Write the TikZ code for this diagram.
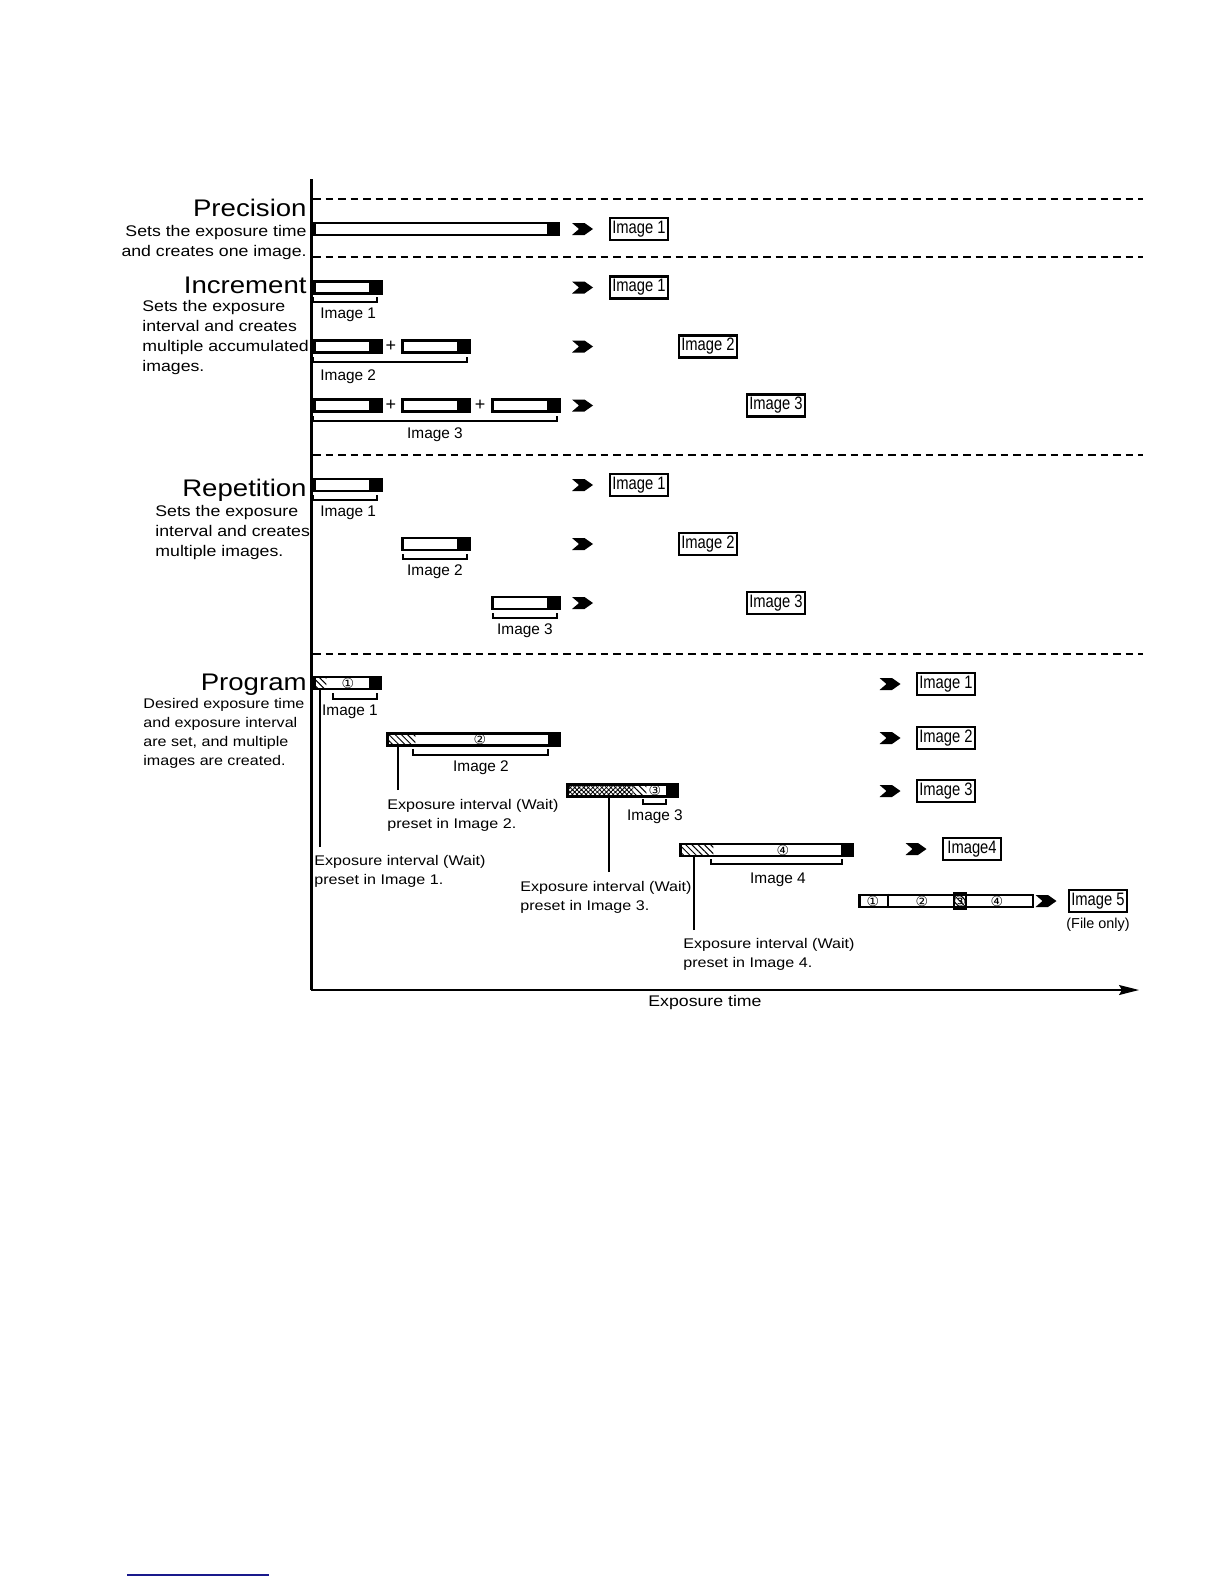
\documentclass[tikz,border=0pt]{standalone}
\usepackage{fontspec}
\setmainfont{Liberation Sans}[FakeStretch=1.15]
\newfontfamily\plainfont{Liberation Sans}
\newfontfamily\boxfont{Liberation Sans}[FakeStretch=0.82]
\newfontfamily\symfont{DejaVu Sans}
\usepackage{tikz}
\usetikzlibrary{arrows.meta, patterns.meta}
\definecolor{footblue}{RGB}{25,25,140}

\begin{document}
\begin{tikzpicture}[x=0.5pt, y=-0.5pt, every node/.style={inner sep=0pt},
    title/.style={anchor=base east, font=\fontsize{12}{14}\selectfont},
    desc/.style={anchor=north west, align=left, font=\fontsize{7.7}{10}\selectfont},
    wait/.style={anchor=north west, align=left, font=\fontsize{7}{9.5}\selectfont},
    lab/.style={anchor=base, font=\plainfont\fontsize{7.7}{9}\selectfont},
    imgbox/.style={draw, line width=1.2pt, minimum width=29pt, minimum height=11pt, inner sep=0.5pt, font=\boxfont\fontsize{9}{10}\selectfont},
    ebar/.style={draw, line width=1.4pt, minimum height=6pt, anchor=west,
        path picture={\fill ([xshift=-6pt]path picture bounding box.south east) rectangle (path picture bounding box.north east);}},
    wbar/.style={ebar,
        path picture={\fill ([xshift=-6pt]path picture bounding box.south east) rectangle (path picture bounding box.north east);
            \fill[pattern={Lines[angle=-45, distance=2.2pt, line width=0.5pt]}] (path picture bounding box.south west) rectangle ([xshift=#1]path picture bounding box.north west);}},
    brk/.style={line width=0.6pt},
    divline/.style={line width=1pt, dash pattern=on 3.8pt off 2.45pt},
    num/.style={font=\symfont\fontsize{7}{7}\selectfont},
    plus/.style={font=\plainfont\fontsize{9}{9}\selectfont},
    chev/.pic={\fill (-10.5,-6) -- (2,-6) -- (10.5,0) -- (2,6) -- (-10.5,6) -- (-3.5,0) -- cycle;}]
    \useasboundingbox (0,0) rectangle (1224,1584);

    % axes
    \coordinate (org) at (311,990);
    \coordinate (ytop) at (311,179);
    \coordinate (xend) at (1139,990);
    \draw[line width=1.5pt] (ytop) -- (org);
    \draw[line width=0.8pt, -{Stealth[length=10pt, width=5pt, inset=1.5pt]}] (org) -- (xend);
    \node[font=\fontsize{7.7}{9}\selectfont] (xlab) at (705,1003) {Exposure time};
    \foreach \y in {199,257,455,654}
        \draw[divline] (313,\y) -- (1143,\y);

    % precision
    \node[title] (prec) at (307,216) {Precision};
    \node[desc, anchor=north east, align=right, font=\fontsize{7.7}{9.75}\selectfont] (precd) at (307,225) {Sets the exposure time\\and creates one image.};
    \node[ebar, minimum width=122.3pt] (pb) at (313,229) {};
    \pic at (582.5,229) {chev};
    \node[imgbox] (pimg) at (639,229) {Image 1};

    % increment
    \node[title] (inc) at (307,293.5) {Increment};
    \node[desc] (incd) at (142,300) {Sets the exposure\\interval and creates\\multiple accumulated\\images.};
    \node[ebar, minimum width=33.5pt] (i1a) at (313,287.5) {};
    \draw[brk] (313,297) |- (377,302) -- (377,297);
    \node[lab, anchor=base west] (i1l) at (320,318.5) {Image 1};
    \pic at (582.5,287.5) {chev};
    \node[imgbox] (i1img) at (639,287.5) {Image 1};

    \node[ebar, minimum width=33.5pt] (i2a) at (313,346.5) {};
    \node[plus] (i2p) at (391,346.5) {+};
    \node[ebar, minimum width=33.5pt] (i2b) at (401,346.5) {};
    \draw[brk] (313,357) |- (467,362) -- (467,357);
    \node[lab, anchor=base west] (i2l) at (320,380) {Image 2};
    \pic at (582.5,346.5) {chev};
    \node[imgbox] (i2img) at (708,346.5) {Image 2};

    \node[ebar, minimum width=33.5pt] (i3a) at (313,405.5) {};
    \node[plus] (i3p) at (391,405.5) {+};
    \node[ebar, minimum width=33.5pt] (i3b) at (401,405.5) {};
    \node[plus] (i3q) at (480,405.5) {+};
    \node[ebar, minimum width=33.5pt] (i3c) at (491,405.5) {};
    \draw[brk] (313,416) |- (557,421) -- (557,416);
    \node[lab] (i3l) at (435,438) {Image 3};
    \pic at (582.5,405.5) {chev};
    \node[imgbox] (i3img) at (776,405.5) {Image 3};

    % repetition
    \node[title] (rep) at (307,496) {Repetition};
    \node[desc] (repd) at (155,505) {Sets the exposure\\interval and creates\\multiple images.};
    \node[ebar, minimum width=33.5pt] (r1) at (313,485) {};
    \draw[brk] (313,495) |- (377,500) -- (377,495);
    \node[lab, anchor=base west] (r1l) at (320,516.5) {Image 1};
    \pic at (582.5,485) {chev};
    \node[imgbox] (r1img) at (639,485) {Image 1};

    \node[ebar, minimum width=33.5pt] (r2) at (401,544) {};
    \draw[brk] (403,554) |- (467,559) -- (467,554);
    \node[lab] (r2l) at (435,575.5) {Image 2};
    \pic at (582.5,544) {chev};
    \node[imgbox] (r2img) at (708,544) {Image 2};

    \node[ebar, minimum width=33.5pt] (r3) at (491,603) {};
    \draw[brk] (493,613) |- (557,618) -- (557,613);
    \node[lab] (r3l) at (525,634.5) {Image 3};
    \pic at (582.5,603) {chev};
    \node[imgbox] (r3img) at (776,603) {Image 3};

    % program
    \node[title] (prog) at (307,690) {Program};
    \node[desc, font=\fontsize{7}{9.5}\selectfont] (progd) at (143,697.5) {Desired exposure time\\and exposure interval\\are set, and multiple\\images are created.};

    \node[wbar=6pt, minimum width=33.3pt] (p1) at (313,683) {};
    \node[num] (n1) at (348,683) {①};
    \draw[brk] (333,693) |- (377,699) -- (377,693);
    \node[lab] (p1l) at (350,715) {Image 1};
    \pic at (890,684) {chev};
    \node[imgbox] (p1img) at (946,684) {Image 1};
    \coordinate (c1) at (320,847);
    \draw[brk] (c1) -- (c1 |- p1.south);
    \node[wait] (w1) at (314,854.5) {Exposure interval (Wait)\\preset in Image 1.};

    \node[wbar=14pt, minimum width=86.3pt] (p2) at (386,739.5) {};
    \node[num] (n2) at (480,739.5) {②};
    \draw[brk] (413,749) |- (548,755) -- (548,749);
    \node[lab] (p2l) at (481,771) {Image 2};
    \pic at (890,738) {chev};
    \node[imgbox] (p2img) at (946,738) {Image 2};
    \coordinate (c2) at (398,790);
    \draw[brk] (c2) -- (c2 |- p2.south);
    \node[wait] (w2) at (387,798.5) {Exposure interval (Wait)\\preset in Image 2.};

    \node[ebar, minimum width=55.3pt,
        path picture={\fill ([xshift=-6pt]path picture bounding box.south east) rectangle (path picture bounding box.north east);
            \fill[pattern={Hatch[angle=45, distance=1.6pt, line width=0.4pt]}] (path picture bounding box.south west) rectangle ([xshift=33pt]path picture bounding box.north west);
            \fill[pattern={Lines[angle=-45, distance=2.2pt, line width=0.5pt]}] ([xshift=33pt]path picture bounding box.south west) rectangle ([xshift=39.5pt]path picture bounding box.north west);}] (p3) at (566,790.5) {};
    \node[num] (n3) at (655,790.5) {③};
    \draw[brk] (643,799) |- (666,804) -- (666,799);
    \node[lab] (p3l) at (655,820) {Image 3};
    \pic at (890,791) {chev};
    \node[imgbox] (p3img) at (946,791) {Image 3};
    \coordinate (c3) at (609,872);
    \draw[brk] (c3) -- (c3 |- p3.south);
    \node[wait] (w3) at (520,880.5) {Exposure interval (Wait)\\preset in Image 3.};

    \node[wbar=16.5pt, minimum width=86.3pt] (p4) at (679,850) {};
    \node[num] (n4) at (783,850) {④};
    \draw[brk] (711,859) |- (842,864) -- (842,859);
    \node[lab] (p4l) at (778,883) {Image 4};
    \pic at (916,849) {chev};
    \node[imgbox] (p4img) at (972,849) {Image4};
    \coordinate (c4) at (694,930);
    \draw[brk] (c4) -- (c4 |- p4.south);
    \node[wait] (w4) at (683,937.5) {Exposure interval (Wait)\\preset in Image 4.};

    \node[draw, line width=1.4pt, minimum width=86.8pt, minimum height=6pt, anchor=west] (p5) at (858,901) {};
    \draw[line width=1.4pt] ([xshift=15pt]p5.north west) -- ([xshift=15pt]p5.south west);
    \draw[line width=1.4pt, pattern={Lines[angle=-45, distance=2.2pt, line width=0.5pt]}] ([xshift=48pt]p5.north west) rectangle ([xshift=54pt]p5.south west);
    \node[num] (m1) at (873,901) {①};
    \node[num] (m2) at (922,901) {②};
    \node[num] (m3) at (960,901) {③};
    \node[num] (m4) at (997,901) {④};
    \pic at (1046,901) {chev};
    \node[imgbox] (p5img) at (1098,901) {Image 5};
    \node[font=\plainfont\fontsize{7.2}{8}\selectfont] (fonly) at (1098,925) {(File only)};

    \draw[footblue, line width=1pt] (127,1575) -- (269,1575);
\end{tikzpicture}
\end{document}
